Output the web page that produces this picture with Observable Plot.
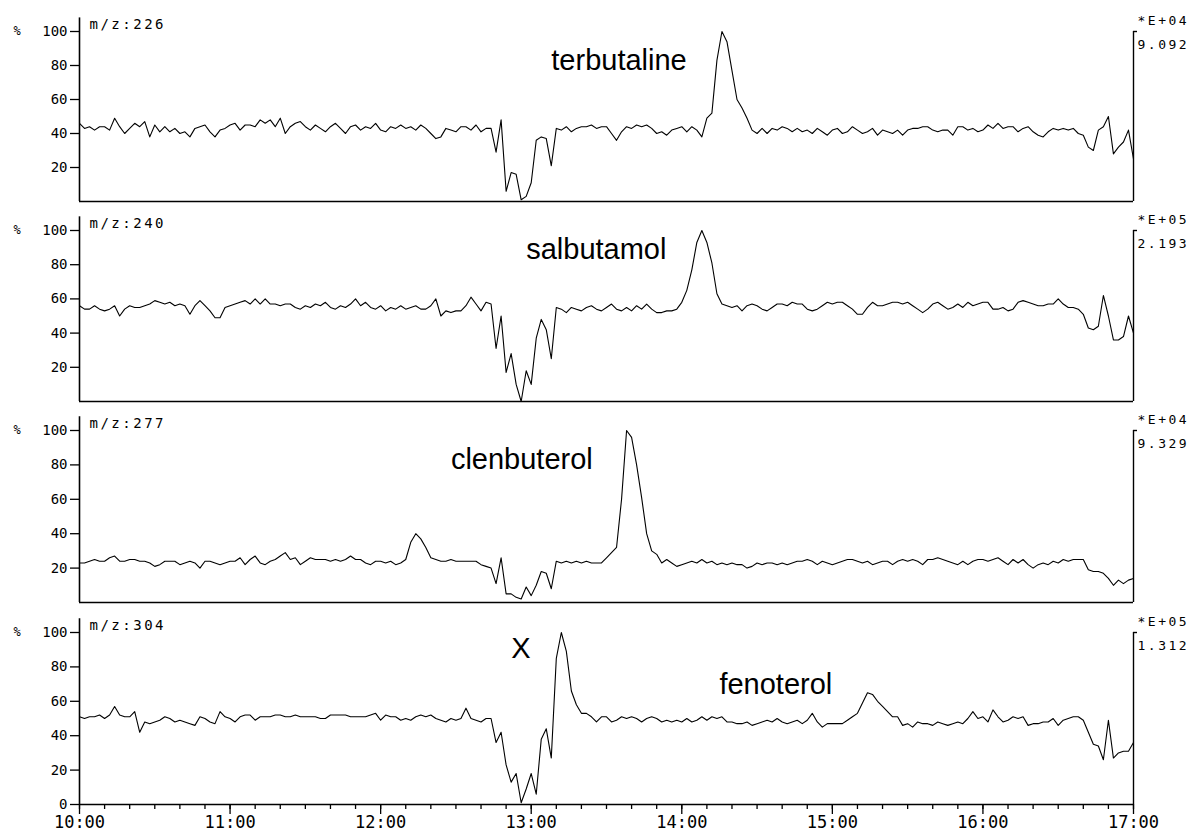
<!DOCTYPE html>
<html><head><meta charset="utf-8">
<script src="https://cdn.jsdelivr.net/npm/d3@7"></script>
<script src="https://cdn.jsdelivr.net/npm/@observablehq/plot@0.6"></script>
<style>
html,body{margin:0;padding:0;background:#fff;}
#chart{width:1200px;height:836px;overflow:hidden;background:#fff;}
#chart svg{display:block;}
</style></head><body><div id="chart"></div>
<script>
// ---- data ----
const startTime = "10:00";
const stepMinutes = 2;
const hourLabels = ["10:00","11:00","12:00","13:00","14:00","15:00","16:00","17:00"];
const yTickValues = [0, 20, 40, 60, 80, 100];
const massLabels = ["m/z:226", "m/z:240", "m/z:277", "m/z:304"];
const scaleExponents = ["*E+04", "*E+05", "*E+04", "*E+05"];
const scaleMaxima = ["9.092", "2.193", "9.329", "1.312"];
const compoundNames = ["terbutaline", "salbutamol", "clenbuterol", "X", "fenoterol"];
const compoundPanels = [0, 1, 2, 3, 3];

const mz226 = [46,43,44,42,44,44,42,49,44,40,43,46,44,47,38,45,41,44,41,43,
40,41,38,43,44,45,41,38,42,43,45,46,42,45,45,44,48,46,48,44,
49,40,44,46,47,44,42,45,43,41,44,46,43,40,44,45,42,44,43,46,
42,41,44,43,45,43,44,42,45,43,40,37,38,43,42,41,44,44,42,45,
41,43,43,29,48,6,17,16,1,3,11,36,38,37,21,43,42,44,41,43,
44,44,45,43,44,44,40,36,41,44,43,45,44,45,43,40,41,39,42,43,
44,41,44,42,38,49,52,83,100,94,77,60,55,49,42,40,43,40,43,42,
44,43,41,43,41,42,40,43,41,39,42,43,40,41,44,42,40,41,43,39,
42,41,40,42,39,42,43,43,44,44,42,41,42,42,39,44,44,42,43,41,
42,45,43,46,43,44,44,41,43,44,41,39,38,41,43,42,43,42,43,40,
39,32,30,42,44,50,28,32,35,42,25];

const mz240 = [56,54,54,56,54,53,54,56,50,54,56,55,55,56,57,59,58,57,58,56,
57,56,51,56,59,56,53,49,49,55,56,57,58,59,57,60,57,60,57,57,
56,57,57,55,54,56,55,57,56,58,55,54,56,55,57,60,56,58,55,54,
56,53,55,54,56,54,55,56,54,54,56,60,50,53,52,53,53,56,61,57,
53,58,57,31,50,17,28,10,0,18,10,37,48,42,25,55,54,52,55,54,
53,55,56,54,53,55,57,54,53,55,53,56,54,57,54,52,52,53,53,54,
58,65,77,93,100,93,81,63,57,56,55,56,53,56,57,56,54,53,55,57,
57,56,58,57,57,54,53,54,56,58,57,58,58,56,54,51,51,55,58,56,
56,57,58,58,57,58,56,54,52,54,57,58,56,54,55,57,55,58,56,57,
58,58,54,54,55,53,54,58,59,58,57,56,56,57,57,60,57,55,55,54,
51,43,42,44,62,50,36,36,38,50,40];

const mz277 = [23,23,24,25,24,24,26,27,24,24,25,25,24,24,23,21,22,24,24,24,
22,23,24,23,20,24,24,23,22,23,24,24,26,22,25,27,23,22,24,25,
27,29,25,26,22,24,26,25,25,25,24,25,24,25,27,25,25,23,22,24,
24,23,24,22,23,25,35,40,37,32,26,25,24,24,25,24,24,24,24,24,
22,21,20,11,26,5,5,3,2,9,4,10,18,17,8,24,23,24,23,24,
23,24,23,23,23,26,29,32,60,100,96,80,61,40,30,28,23,25,23,21,
22,23,24,23,25,23,24,22,23,22,23,22,22,20,21,23,22,23,23,22,
23,22,23,24,24,25,24,22,24,23,22,23,24,25,25,24,23,24,22,23,
24,24,22,24,25,24,25,24,22,25,25,26,25,24,23,22,24,22,24,25,
25,24,25,26,24,22,25,23,25,22,20,22,23,22,24,23,25,24,25,25,
25,19,18,18,17,14,10,13,11,13,14];

const mz304 = [51,50,51,51,52,50,52,57,52,51,51,54,42,48,47,48,49,51,50,48,
49,48,47,46,51,50,48,47,54,51,50,48,51,52,52,49,51,51,51,52,
52,51,51,52,51,51,51,51,50,50,52,52,52,52,51,51,51,51,52,53,
49,52,51,51,49,50,49,51,52,51,52,50,49,48,50,49,50,56,50,49,
48,50,50,36,42,23,13,18,1,9,18,6,38,44,27,85,100,89,66,58,
53,53,51,48,51,51,48,49,51,50,51,50,48,50,51,50,48,49,48,49,
48,50,48,49,51,49,51,50,51,48,48,47,47,48,46,47,48,49,48,50,
48,47,48,49,47,49,53,48,45,47,47,47,47,49,51,53,59,65,64,60,
57,54,51,51,46,47,45,48,47,47,46,48,47,46,47,48,47,50,54,50,
51,48,55,51,48,49,51,50,51,46,47,47,48,48,50,46,49,50,51,51,
49,42,35,34,26,49,27,30,31,31,36];

const seriesList = [mz226, mz240, mz277, mz304];

// ---- label placement (annotation anchors: time and level) ----
const labelTimes = ["13:08", "12:58", "12:28", "12:52", "14:15"];
const labelLevels = [77.6, 83.6, 77.9, 84.9, 64.5];

// ---- helpers ----
const parseHM = s => { const [h, m] = s.split(":").map(Number); return new Date(Date.UTC(2000, 0, 1, h, m)); };
const t0 = parseHM(startTime);
const t1 = parseHM(hourLabels[hourLabels.length - 1]);
const hookEnd = new Date(+t1 + 1.6 * 60000);
const hourTicks = hourLabels.map(parseHM);
const minorTicks = d3.utcMinute.every(10).range(t0, new Date(+t1 + 1000));
const toSeries = vals => vals.map((v, i) => ({t: new Date(+t0 + i * stepMinutes * 60000), v}));
const spacedTexts = new Set([...massLabels, ...scaleExponents, ...scaleMaxima]);

const mono = "'DejaVu Sans Mono', monospace";
const sans = "'Liberation Sans', Arial, Helvetica, sans-serif";
const frames = [
  {height: 205, marginTop: 31, marginBottom: 4},
  {height: 201, marginTop: 25, marginBottom: 5},
  {height: 201, marginTop: 24, marginBottom: 5},
  {height: 229, marginTop: 25, marginBottom: 32}
];

const container = document.getElementById("chart");
seriesList.forEach((vals, p) => {
  const last = p === seriesList.length - 1;
  const data = toSeries(vals);
  const notes = compoundNames
    .map((name, k) => ({name, panel: compoundPanels[k], t: parseHM(labelTimes[k]), v: labelLevels[k]}))
    .filter(d => d.panel === p);
  const marks = [
    Plot.ruleY([0], {strokeWidth: 1.6}),
    Plot.ruleX([t0], {y1: 0, y2: 108, strokeWidth: 1.6}),
    Plot.ruleX([t1], {y1: 0, y2: 100, strokeWidth: 1.4}),
    Plot.ruleY([100], {x1: () => t1, x2: () => hookEnd, strokeWidth: 1.4}),
    Plot.axisY(last ? yTickValues : yTickValues.filter(d => d > 0), {
      tickSize: 9, tickPadding: 3, fontSize: 14, fontFamily: mono, label: null, strokeWidth: 1.3
    }),
    Plot.line(data, {x: "t", y: "v", stroke: "#000", strokeWidth: 1.1}),
    Plot.text([massLabels[p]], {text: d => d, frameAnchor: "top-left", dx: 10, dy: -3, lineAnchor: "bottom", textAnchor: "start", fontFamily: mono, fontSize: 14}),
    Plot.text([scaleExponents[p]], {text: d => d, frameAnchor: "top-right", dx: 4, dy: -7, lineAnchor: "bottom", textAnchor: "start", fontFamily: mono, fontSize: 13}),
    Plot.text([scaleMaxima[p]], {text: d => d, frameAnchor: "top-right", dx: 4, dy: 17, lineAnchor: "bottom", textAnchor: "start", fontFamily: mono, fontSize: 13}),
    Plot.text(["%"], {text: d => d, frameAnchor: "top-left", dx: -66, lineAnchor: "middle", textAnchor: "start", fontFamily: mono, fontSize: 12}),
    Plot.text(notes, {x: "t", y: "v", text: "name", textAnchor: "start", lineAnchor: "bottom", fontFamily: sans, fontSize: 29})
  ];
  if (last) {
    marks.push(Plot.axisX(minorTicks, {tickSize: 5, tickFormat: () => "", label: null, strokeWidth: 1.3}));
    marks.push(Plot.axisX(hourTicks, {
      tickSize: 10, tickPadding: 1, label: null, strokeWidth: 1.3, fontSize: 17, fontFamily: mono,
      tickFormat: d => hourLabels[hourTicks.findIndex(h => +h === +d)]
    }));
  }
  const svg = Plot.plot({
    width: 1200,
    height: frames[p].height,
    marginTop: frames[p].marginTop,
    marginBottom: frames[p].marginBottom,
    marginLeft: 79,
    marginRight: 67,
    style: {background: "#fff", color: "#000", fontFamily: mono, fontSize: "14px", overflow: "visible"},
    x: {type: "utc", domain: [t0, t1], axis: last ? undefined : null},
    y: {domain: [0, 100]},
    marks
  });
  d3.select(svg).selectAll("text")
    .filter(function() { return spacedTexts.has(this.textContent); })
    .attr("letter-spacing", "2.5px");
  container.appendChild(svg);
});
</script>
</body></html>
